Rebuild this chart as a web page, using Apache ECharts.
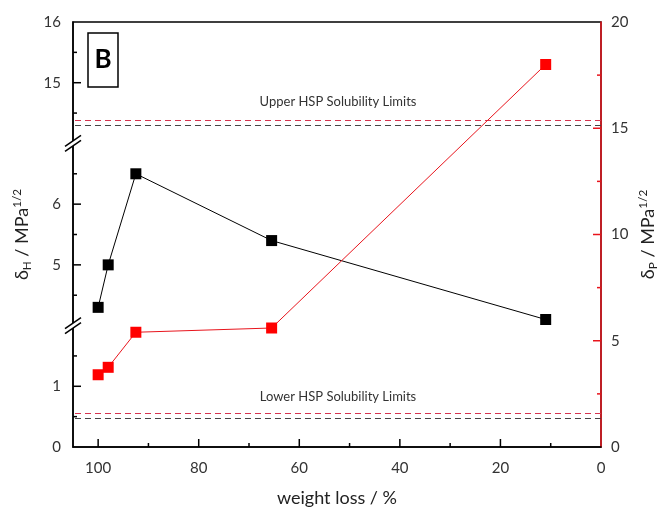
<!DOCTYPE html>
<html>
<head>
<meta charset="utf-8">
<script src="https://cdn.jsdelivr.net/npm/echarts@6/dist/echarts.min.js"></script>
<style>
  html, body { margin: 0; padding: 0; background: #fff; }
  #chart { width: 664px; height: 512px; }
</style>
</head>
<body>
<div id="chart"></div>
<script>
// weight loss (%) and the two solubility parameters
var weightLoss = [100, 98, 92.5, 65.5, 11];
var deltaH = [4.3, 5.0, 6.5, 5.4, 4.1];     // left axis, black
var deltaP = [3.4, 3.75, 5.4, 5.6, 18.0];   // right axis, red

// solubility limits [lower, upper]
var hLimits = [0.47, 14.3];
var pLimits = [1.6, 15.4];

// tick positions (Origin style, drawn inside the frame)
var leftLabels = [0, 1, 5, 6, 15, 16];
var xMajor = [20, 40, 60, 80, 100];
var xMinor = [10, 30, 50, 70, 90];
var leftMajor = [1, 5, 6, 15];
var leftMinor = [0.5, 1.5, 4.5, 5.5, 6.5, 14.5, 15.5];
var rightMajor = [5, 10, 15];
var rightMinor = [2.5, 7.5, 12.5, 17.5];

var leftBreaks = [
  { start: 2, end: 4, gap: 0 },
  { start: 7, end: 14, gap: 0 }
];

var font = "Lato";
var dom = document.getElementById("chart");
var myChart = echarts.init(dom);

function pairs(xs, ys) {
  return xs.map(function (x, i) { return [x, ys[i]]; });
}

function nameRich(size) {
  return {
    a: { fontSize: size, fontFamily: font, color: "#222" },
    sub: { fontSize: size * 0.65, fontFamily: font, color: "#222", verticalAlign: "bottom", padding: [10, 0, 0, 0] },
    sup: { fontSize: size * 0.65, fontFamily: font, color: "#222", verticalAlign: "top", padding: [0, 0, 10, 0] }
  };
}

var option = {
  animation: false,
  grid: {
    left: 73, right: 63, top: 22, bottom: 65,
    containLabel: false,
    outerBoundsMode: "none",
    show: true, borderColor: "#000", borderWidth: 1.5
  },
  xAxis: {
    type: "value",
    min: 0, max: 105, interval: 20,
    inverse: true,
    position: "bottom",
    name: "weight loss / %",
    nameLocation: "middle",
    nameGap: 42,
    nameTextStyle: { fontSize: 18, fontFamily: font, color: "#222" },
    axisLine: { show: true, onZero: false, lineStyle: { color: "#000", width: 1.5 } },
    axisTick: { show: false },
    axisLabel: { fontSize: 15, fontFamily: font, color: "#333", margin: 14, showMaxLabel: false },
    splitLine: { show: false }
  },
  yAxis: [
    {
      type: "value",
      min: 0, max: 16, interval: 1,
      position: "left",
      breaks: leftBreaks,
      breakArea: { show: false },
      name: "{a|δ}{sub|H}{a| / MPa}{sup|1/2}",
      nameLocation: "middle",
      nameRotate: 90,
      nameGap: 40,
      nameMoveOverlap: false,
      nameTextStyle: { rich: nameRich(18) },
      axisLine: { show: true, onZero: false, lineStyle: { color: "#000", width: 1.5 } },
      axisTick: { show: false },
      axisLabel: {
        fontSize: 15, fontFamily: font, color: "#333", margin: 12,
        formatter: function (v) { return leftLabels.indexOf(v) >= 0 ? String(v) : ""; }
      },
      splitLine: { show: false }
    },
    {
      type: "value",
      min: 0, max: 20, interval: 5,
      position: "right",
      name: "{a|δ}{sub|P}{a| / MPa}{sup|1/2}",
      nameLocation: "middle",
      nameRotate: 90,
      nameGap: 36,
      nameMoveOverlap: false,
      nameTextStyle: { rich: nameRich(18) },
      axisLine: { show: true, onZero: false, lineStyle: { color: "#e8141c", width: 1.5 } },
      axisTick: { show: false },
      axisLabel: { fontSize: 15, fontFamily: font, color: "#333", margin: 10 },
      splitLine: { show: false }
    }
  ],
  series: [
    {
      name: "deltaH",
      type: "line",
      xAxisIndex: 0,
      yAxisIndex: 0,
      data: pairs(weightLoss, deltaH),
      symbol: "rect",
      symbolSize: 11,
      itemStyle: { color: "#000" },
      lineStyle: { color: "#000", width: 1 },
      z: 5,
      markLine: {
        silent: true, symbol: "none",
        label: { show: false },
        lineStyle: { color: "#444", type: [6, 4], width: 1.2 },
        data: [{ yAxis: hLimits[0] }, { yAxis: hLimits[1] }]
      }
    },
    {
      name: "deltaP",
      type: "line",
      xAxisIndex: 0,
      yAxisIndex: 1,
      data: pairs(weightLoss, deltaP),
      symbol: "rect",
      symbolSize: 11,
      itemStyle: { color: "#ff0000" },
      lineStyle: { color: "#e8141c", width: 1 },
      z: 5,
      markLine: {
        silent: true, symbol: "none",
        label: { show: false },
        lineStyle: { color: "#d6344f", type: [6, 4], width: 1.2 },
        data: [{ yAxis: pLimits[0] }, { yAxis: pLimits[1] }]
      }
    }
  ]
};

myChart.setOption(option);

// frame edges in pixels, taken from the axes
var ax = myChart.convertToPixel({ xAxisIndex: 0 }, 105);
var axRight = myChart.convertToPixel({ xAxisIndex: 0 }, 0);
var ayBottom = myChart.convertToPixel({ yAxisIndex: 0 }, 0);

var marks = [];

function tick(x1, y1, x2, y2, color) {
  marks.push({
    type: "line",
    shape: { x1: x1, y1: y1, x2: x2, y2: y2 },
    style: { stroke: color, lineWidth: 1.5 }, z: 99
  });
}

// inward ticks, major 8px and minor 4px
xMajor.concat(xMinor).forEach(function (v) {
  var len = xMajor.indexOf(v) >= 0 ? 8 : 4;
  var x = myChart.convertToPixel({ xAxisIndex: 0 }, v);
  tick(x, ayBottom, x, ayBottom - len, "#000");
});
leftMajor.concat(leftMinor).forEach(function (v) {
  var len = leftMajor.indexOf(v) >= 0 ? 8 : 4;
  var y = myChart.convertToPixel({ yAxisIndex: 0 }, v);
  tick(ax, y, ax + len, y, "#000");
});
rightMajor.concat(rightMinor).forEach(function (v) {
  var len = rightMajor.indexOf(v) >= 0 ? 8 : 4;
  var y = myChart.convertToPixel({ yAxisIndex: 1 }, v);
  tick(axRight, y, axRight - len, y, "#e8141c");
});

// break marks on the left axis
[2, 7].forEach(function (v) {
  var y = myChart.convertToPixel({ yAxisIndex: 0 }, v);
  marks.push({
    type: "polygon",
    shape: { points: [[ax - 8, y + 8], [ax + 8, y - 3], [ax + 8, y - 8], [ax - 8, y + 3]] },
    style: { fill: "#fff" }, z: 100
  });
  marks.push({
    type: "line",
    shape: { x1: ax - 8, y1: y + 8, x2: ax + 8, y2: y - 3 },
    style: { stroke: "#000", lineWidth: 1.5 }, z: 101
  });
  marks.push({
    type: "line",
    shape: { x1: ax - 8, y1: y + 3, x2: ax + 8, y2: y - 8 },
    style: { stroke: "#000", lineWidth: 1.5 }, z: 101
  });
});

// the "B" panel tag and the limit captions
marks.push({
  type: "rect",
  shape: { x: 88, y: 33, width: 30, height: 54 },
  style: { fill: "#fff", stroke: "#000", lineWidth: 1.5 }, z: 100
});
marks.push({
  type: "text",
  x: 103, y: 60,
  style: { text: "B", font: "bold 26px " + font, fill: "#000", align: "center", verticalAlign: "middle" },
  z: 101
});
marks.push({
  type: "text",
  x: 338, y: 102,
  style: { text: "Upper HSP Solubility Limits", font: "13px " + font, fill: "#333", align: "center", verticalAlign: "middle" },
  z: 101
});
marks.push({
  type: "text",
  x: 338, y: 397,
  style: { text: "Lower HSP Solubility Limits", font: "13px " + font, fill: "#333", align: "center", verticalAlign: "middle" },
  z: 101
});

myChart.setOption({ graphic: marks });
</script>
</body>
</html>
